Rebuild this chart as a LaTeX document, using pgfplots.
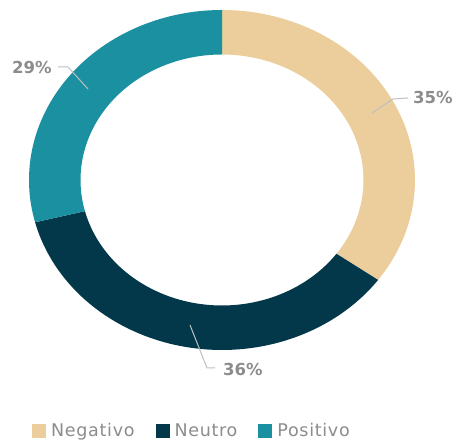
\documentclass[border=0pt]{standalone}
\usepackage{fontspec}
\setmainfont{DejaVu Sans}
\newfontfamily\legfont[LetterSpace=4]{DejaVu Sans}
\usepackage{pgfplots}
\pgfplotsset{compat=1.18}
\usepgfplotslibrary{fillbetween}
\definecolor{cNeg}{HTML}{EBCE9C}
\definecolor{cNeu}{HTML}{03384A}
\definecolor{cPos}{HTML}{1A90A1}
\definecolor{cLbl}{HTML}{8C8C8C}
\definecolor{cLead}{HTML}{BFBFBF}
% data (percent)
\def\vNeg{35}\def\vNeu{36}\def\vPos{29}
\pgfmathsetmacro\aA{90}
\pgfmathsetmacro\aB{\aA-3.6*\vNeg}
\pgfmathsetmacro\aC{\aB-3.6*\vNeu}
\pgfmathsetmacro\aD{\aC-3.6*\vPos}
\begin{document}
\begin{tikzpicture}
\begin{axis}[x=1pt,y=1pt,scale only axis,
  xmin=0,xmax=456,ymin=0,ymax=441,
  hide axis, clip=false,
  legend image code/.code={\fill[#1] (0pt,-7pt) rectangle (14pt,7pt);},
  legend style={at={(axis cs:32,10)},anchor=west,draw=none,fill=none,
    inner sep=0pt, nodes={inner sep=0pt},
    legend columns=3, font=\legfont\fontsize{17.5}{20}\selectfont, text=cLbl,
    /tikz/every odd column/.append style={column sep=5pt},
    /tikz/every even column/.append style={column sep=21pt}},
  legend cell align=left]
\path (rel axis cs:0,0) rectangle (rel axis cs:1,1);
% outer/inner arcs of each wedge
\addplot[name path=oA, draw=none, domain=\aB:\aA, samples=90, forget plot] ({222+193*cos(x)},{261+170*sin(x)});
\addplot[name path=iA, draw=none, domain=\aB:\aA, samples=90, forget plot] ({222+141.5*cos(x)},{261+125.5*sin(x)});
\addplot[name path=oB, draw=none, domain=\aC:\aB, samples=90, forget plot] ({222+193*cos(x)},{261+170*sin(x)});
\addplot[name path=iB, draw=none, domain=\aC:\aB, samples=90, forget plot] ({222+141.5*cos(x)},{261+125.5*sin(x)});
\addplot[name path=oC, draw=none, domain=\aD:\aC, samples=90, forget plot] ({222+193*cos(x)},{261+170*sin(x)});
\addplot[name path=iC, draw=none, domain=\aD:\aC, samples=90, forget plot] ({222+141.5*cos(x)},{261+125.5*sin(x)});
\addplot[fill=cNeg, draw=none, forget plot] fill between[of=oA and iA];
\addplot[fill=cNeu, draw=none, forget plot] fill between[of=oB and iB];
\addplot[fill=cPos, draw=none, forget plot] fill between[of=oC and iC];
% leader lines
\addplot[cLead, line width=1pt, forget plot] coordinates {(372,328) (393,342) (408,343)};
\addplot[cLead, line width=1pt, forget plot] coordinates {(88,352) (68,374) (58,374)};
\addplot[cLead, line width=1pt, forget plot] coordinates {(190,116) (207,73) (215,73)};
\node[font=\bfseries\fontsize{16.5}{18}\selectfont, text=cLbl, anchor=west, inner sep=0pt] at (axis cs:413,343) {35\%};
\node[font=\bfseries\fontsize{16.5}{18}\selectfont, text=cLbl, anchor=west, inner sep=0pt] at (axis cs:12,373) {29\%};
\node[font=\bfseries\fontsize{16.5}{18}\selectfont, text=cLbl, anchor=west, inner sep=0pt] at (axis cs:223,71) {36\%};
\addlegendimage{fill=cNeg, draw=none}
\addlegendentry{Negativo}
\addlegendimage{fill=cNeu, draw=none}
\addlegendentry{Neutro}
\addlegendimage{fill=cPos, draw=none}
\addlegendentry{Positivo}
\end{axis}
\end{tikzpicture}
\end{document}
